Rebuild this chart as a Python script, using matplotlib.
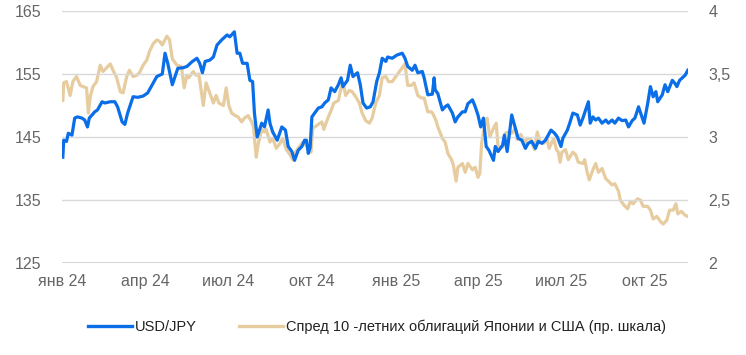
import pandas as pd
import matplotlib.pyplot as plt
import matplotlib.dates as mdates
from matplotlib.ticker import FuncFormatter, MultipleLocator

# USD/JPY (левая шкала)
usd_dates = [
    "2024-01-02", "2024-01-03", "2024-01-06", "2024-01-08", "2024-01-12", "2024-01-15", "2024-01-18",
    "2024-01-23", "2024-01-26", "2024-01-29", "2024-01-31", "2024-02-06", "2024-02-09", "2024-02-14",
    "2024-02-17", "2024-02-23", "2024-02-28", "2024-03-02", "2024-03-07", "2024-03-10", "2024-03-13",
    "2024-03-19", "2024-03-24", "2024-03-30", "2024-04-04", "2024-04-09", "2024-04-14", "2024-04-20",
    "2024-04-23", "2024-04-26", "2024-05-01", "2024-05-04", "2024-05-07", "2024-05-13", "2024-05-17",
    "2024-05-23", "2024-05-28", "2024-05-31", "2024-06-03", "2024-06-06", "2024-06-11", "2024-06-15",
    "2024-06-19", "2024-06-24", "2024-06-30", "2024-07-03", "2024-07-08", "2024-07-11", "2024-07-14",
    "2024-07-17", "2024-07-22", "2024-07-25", "2024-07-28", "2024-07-30", "2024-08-02", "2024-08-07",
    "2024-08-10", "2024-08-14", "2024-08-16", "2024-08-19", "2024-08-24", "2024-08-29", "2024-09-02",
    "2024-09-05", "2024-09-09", "2024-09-12", "2024-09-16", "2024-09-20", "2024-09-23", "2024-09-25",
    "2024-09-27", "2024-09-29", "2024-10-01", "2024-10-04", "2024-10-08", "2024-10-12", "2024-10-15",
    "2024-10-19", "2024-10-22", "2024-10-26", "2024-10-30", "2024-11-02", "2024-11-04", "2024-11-09",
    "2024-11-12", "2024-11-15", "2024-11-20", "2024-11-23", "2024-11-26", "2024-11-30", "2024-12-04",
    "2024-12-07", "2024-12-11", "2024-12-14", "2024-12-17", "2024-12-21", "2024-12-23", "2024-12-28",
    "2025-01-02", "2025-01-08", "2025-01-11", "2025-01-14", "2025-01-19", "2025-01-22", "2025-01-25",
    "2025-01-30", "2025-02-01", "2025-02-05", "2025-02-10", "2025-02-12", "2025-02-13", "2025-02-16",
    "2025-02-21", "2025-02-24", "2025-02-27", "2025-03-04", "2025-03-07", "2025-03-10", "2025-03-15",
    "2025-03-18", "2025-03-21", "2025-03-26", "2025-03-29", "2025-04-01", "2025-04-04", "2025-04-07",
    "2025-04-10", "2025-04-13", "2025-04-18", "2025-04-20", "2025-04-23", "2025-04-28", "2025-04-30",
    "2025-05-03", "2025-05-08", "2025-05-12", "2025-05-15", "2025-05-19", "2025-05-23", "2025-05-26",
    "2025-05-30", "2025-06-03", "2025-06-06", "2025-06-10", "2025-06-14", "2025-06-17", "2025-06-20",
    "2025-06-24", "2025-06-27", "2025-07-01", "2025-07-03", "2025-07-08", "2025-07-11", "2025-07-14",
    "2025-07-19", "2025-07-22", "2025-07-25", "2025-07-31", "2025-08-02", "2025-08-05", "2025-08-08",
    "2025-08-11", "2025-08-15", "2025-08-19", "2025-08-22", "2025-08-26", "2025-08-29", "2025-09-02",
    "2025-09-06", "2025-09-10", "2025-09-13", "2025-09-17", "2025-09-20", "2025-09-24", "2025-09-27",
    "2025-09-30", "2025-10-04", "2025-10-07", "2025-10-10", "2025-10-13", "2025-10-15", "2025-10-20",
    "2025-10-23", "2025-10-26", "2025-10-31", "2025-11-03", "2025-11-05", "2025-11-08", "2025-11-14",
    "2025-11-17",
]
usd_jpy = [
    141.8, 144.5, 144.3, 145.6, 145.3, 148.0, 148.2,
    148.0, 147.7, 146.6, 148.0, 149.0, 149.3, 150.6,
    150.4, 150.6, 150.6, 149.8, 147.4, 147.0, 148.8,
    151.4, 151.3, 151.5, 152.0, 153.3, 154.6, 155.0,
    158.3, 156.7, 153.3, 154.6, 155.9, 156.0, 156.2,
    157.0, 157.5, 156.7, 155.2, 157.0, 157.2, 157.7,
    159.6, 160.4, 161.2, 160.9, 161.7, 158.3, 158.3,
    156.7, 156.7, 154.0, 153.8, 148.8, 145.0, 147.2,
    146.6, 149.3, 147.2, 145.8, 144.5, 146.6, 146.1,
    143.5, 142.7, 141.3, 142.9, 143.5, 144.5, 144.5,
    142.4, 143.3, 148.2, 148.8, 149.6, 149.8, 150.4,
    150.9, 152.8, 152.2, 153.3, 154.4, 153.0, 154.0,
    156.4, 154.6, 155.2, 153.3, 150.4, 149.6, 149.8,
    150.6, 153.8, 155.2, 157.5, 157.0, 157.7, 157.5,
    158.0, 158.3, 157.5, 156.2, 155.6, 156.4, 155.2,
    155.4, 154.4, 151.7, 151.8, 154.4, 152.5, 151.9,
    149.3, 149.8, 150.1, 148.8, 147.4, 148.2, 149.0,
    149.0, 150.3, 150.9, 149.8, 148.5, 146.6, 148.0,
    143.5, 142.9, 141.3, 143.5, 142.7, 143.7, 145.3,
    142.7, 148.5, 146.4, 144.8, 144.5, 143.2, 144.0,
    144.3, 143.2, 144.3, 144.0, 144.5, 145.3, 146.1,
    145.6, 145.0, 143.5, 144.8, 146.1, 147.4, 148.8,
    148.5, 146.9, 148.0, 150.6, 147.2, 148.2, 147.7,
    148.0, 147.2, 147.7, 147.2, 147.7, 147.2, 148.0,
    147.6, 147.7, 146.6, 147.6, 148.0, 149.8, 148.5,
    147.2, 150.3, 153.0, 151.4, 152.2, 150.6, 151.7,
    153.3, 152.2, 154.0, 153.5, 153.0, 154.0, 154.8,
    155.6,
]

# спред доходностей 10-летних облигаций США и Японии, п.п. (правая шкала)
spread_dates = [
    "2024-01-02", "2024-01-03", "2024-01-06", "2024-01-10", "2024-01-13", "2024-01-17", "2024-01-21",
    "2024-01-24", "2024-01-28", "2024-01-30", "2024-02-01", "2024-02-04", "2024-02-08", "2024-02-12",
    "2024-02-15", "2024-02-19", "2024-02-23", "2024-02-26", "2024-03-01", "2024-03-05", "2024-03-08",
    "2024-03-12", "2024-03-15", "2024-03-19", "2024-03-23", "2024-03-26", "2024-03-30", "2024-04-03",
    "2024-04-06", "2024-04-10", "2024-04-14", "2024-04-17", "2024-04-20", "2024-04-25", "2024-04-28",
    "2024-05-01", "2024-05-06", "2024-05-11", "2024-05-14", "2024-05-17", "2024-05-19", "2024-05-24",
    "2024-05-27", "2024-05-30", "2024-06-04", "2024-06-07", "2024-06-10", "2024-06-15", "2024-06-18",
    "2024-06-21", "2024-06-26", "2024-06-29", "2024-07-02", "2024-07-05", "2024-07-09", "2024-07-12",
    "2024-07-16", "2024-07-19", "2024-07-23", "2024-07-27", "2024-07-29", "2024-08-01", "2024-08-03",
    "2024-08-07", "2024-08-10", "2024-08-12", "2024-08-16", "2024-08-19", "2024-08-23", "2024-08-27",
    "2024-08-30", "2024-09-03", "2024-09-07", "2024-09-10", "2024-09-13", "2024-09-16", "2024-09-21",
    "2024-09-24", "2024-09-27", "2024-09-30", "2024-10-02", "2024-10-04", "2024-10-08", "2024-10-12",
    "2024-10-14", "2024-10-19", "2024-10-22", "2024-10-25", "2024-10-30", "2024-11-02", "2024-11-04",
    "2024-11-07", "2024-11-11", "2024-11-14", "2024-11-18", "2024-11-22", "2024-11-25", "2024-11-29",
    "2024-12-03", "2024-12-06", "2024-12-10", "2024-12-14", "2024-12-17", "2024-12-21", "2024-12-24",
    "2024-12-28", "2025-01-02", "2025-01-05", "2025-01-08", "2025-01-11", "2025-01-14", "2025-01-18",
    "2025-01-21", "2025-01-25", "2025-01-29", "2025-02-01", "2025-02-05", "2025-02-09", "2025-02-11",
    "2025-02-14", "2025-02-16", "2025-02-21", "2025-02-24", "2025-02-27", "2025-03-03", "2025-03-05",
    "2025-03-08", "2025-03-10", "2025-03-15", "2025-03-18", "2025-03-21", "2025-03-26", "2025-03-29",
    "2025-04-01", "2025-04-03", "2025-04-05", "2025-04-09", "2025-04-11", "2025-04-14", "2025-04-18",
    "2025-04-21", "2025-04-23", "2025-04-28", "2025-05-01", "2025-05-04", "2025-05-08", "2025-05-12",
    "2025-05-14", "2025-05-18", "2025-05-22", "2025-05-25", "2025-05-29", "2025-06-02", "2025-06-05",
    "2025-06-08", "2025-06-12", "2025-06-16", "2025-06-18", "2025-06-23", "2025-06-26", "2025-06-28",
    "2025-06-30", "2025-07-02", "2025-07-06", "2025-07-09", "2025-07-14", "2025-07-17", "2025-07-20",
    "2025-07-25", "2025-07-27", "2025-07-30", "2025-08-01", "2025-08-05", "2025-08-08", "2025-08-11",
    "2025-08-15", "2025-08-19", "2025-08-22", "2025-08-26", "2025-08-29", "2025-09-02", "2025-09-04",
    "2025-09-08", "2025-09-12", "2025-09-15", "2025-09-18", "2025-09-23", "2025-09-26", "2025-09-29",
    "2025-10-04", "2025-10-07", "2025-10-10", "2025-10-14", "2025-10-18", "2025-10-21", "2025-10-25",
    "2025-10-28", "2025-11-01", "2025-11-04", "2025-11-06", "2025-11-10", "2025-11-14", "2025-11-17",
]
spread = [
    3.29, 3.43, 3.44, 3.33, 3.44, 3.48, 3.41,
    3.40, 3.39, 3.19, 3.32, 3.40, 3.44, 3.57,
    3.52, 3.55, 3.58, 3.53, 3.47, 3.36, 3.35,
    3.48, 3.53, 3.48, 3.49, 3.51, 3.57, 3.61,
    3.68, 3.74, 3.77, 3.76, 3.73, 3.80, 3.77,
    3.62, 3.57, 3.56, 3.39, 3.49, 3.47, 3.52,
    3.49, 3.50, 3.25, 3.43, 3.37, 3.27, 3.33,
    3.27, 3.25, 3.39, 3.25, 3.19, 3.17, 3.16,
    3.12, 3.15, 3.17, 3.12, 3.08, 2.84, 2.94,
    3.06, 3.04, 3.06, 2.96, 2.99, 2.91, 2.95,
    2.99, 2.90, 2.86, 2.82, 2.88, 2.91, 2.96,
    2.94, 2.92, 2.88, 3.08, 3.08, 3.10, 3.12,
    3.06, 3.16, 3.21, 3.27, 3.29, 3.39, 3.43,
    3.33, 3.37, 3.36, 3.32, 3.27, 3.19, 3.13,
    3.11, 3.15, 3.27, 3.33, 3.47, 3.48, 3.44,
    3.44, 3.49, 3.52, 3.55, 3.58, 3.41, 3.41,
    3.43, 3.33, 3.31, 3.31, 3.20, 3.20, 3.18,
    3.13, 3.08, 2.99, 2.96, 2.87, 2.82, 2.78,
    2.65, 2.76, 2.79, 2.72, 2.79, 2.74, 2.76,
    2.68, 2.71, 2.95, 3.12, 3.15, 3.00, 3.07,
    3.11, 2.92, 2.92, 3.03, 3.04, 3.03, 3.07,
    2.98, 3.02, 2.95, 2.99, 2.98, 2.90, 3.04,
    2.96, 2.95, 2.98, 2.91, 2.99, 2.90, 2.88,
    2.80, 2.88, 2.90, 2.82, 2.88, 2.86, 2.80,
    2.79, 2.82, 2.71, 2.66, 2.74, 2.79, 2.72,
    2.75, 2.67, 2.65, 2.62, 2.63, 2.57, 2.50,
    2.46, 2.43, 2.49, 2.47, 2.51, 2.50, 2.45,
    2.45, 2.42, 2.35, 2.37, 2.33, 2.31, 2.34,
    2.42, 2.42, 2.47, 2.39, 2.41, 2.38, 2.37,
]

left_ticks = [125, 135, 145, 155, 165]
month_ru = {1: "янв", 4: "апр", 7: "июл", 10: "окт"}

blue = "#0a6ee8"
tan = "#e6cc9e"
grey_txt = "#666666"

plt.rcParams['font.family'] = ['Liberation Sans', 'DejaVu Sans']

fig = plt.figure(figsize=(7.46, 3.55), dpi=100)
ax = fig.add_axes([0.083, 0.259, 0.839, 0.710])
ax2 = ax.twinx()

x1 = pd.to_datetime(usd_dates)
x2 = pd.to_datetime(spread_dates)

ax2.plot(x2, spread, color=tan, lw=2.3, solid_joinstyle='round')
ax.plot(x1, usd_jpy, color=blue, lw=2.3, solid_joinstyle='round')
ax.set_zorder(ax2.get_zorder() + 1)
ax.patch.set_visible(False)

ax.set_ylim(125, 165)
ax.set_yticks(left_ticks)
ax2.set_ylim(2, 4)
ax2.yaxis.set_major_locator(MultipleLocator(0.5))
ax2.yaxis.set_major_formatter(FuncFormatter(lambda v, p: f"{v:g}".replace('.', ',')))

ax.set_xlim(pd.Timestamp("2024-01-01"), pd.Timestamp("2025-11-17"))
ax.xaxis.set_major_locator(mdates.MonthLocator(bymonth=[1, 4, 7, 10]))
ax.xaxis.set_major_formatter(FuncFormatter(
    lambda v, p: f"{month_ru[mdates.num2date(v).month]} {mdates.num2date(v).year % 100}"))

ax.grid(axis='y', color='#d9d9d9', lw=1)
for a in (ax, ax2):
    for s in ('top', 'left', 'right', 'bottom'):
        a.spines[s].set_visible(False)
    a.tick_params(length=0, labelsize=11.5, labelcolor=grey_txt)
ax.axhline(125, color='#d0d0d0', lw=2, zorder=0)
ax.tick_params(axis='y', pad=15)
ax2.tick_params(axis='y', pad=15)
ax.tick_params(axis='x', pad=8)

h1, = ax.plot([], [], color=blue, lw=2.4)
h2, = ax.plot([], [], color=tan, lw=2.4)
fig.legend([h1, h2], ["USD/JPY", "Спред 10 -летних облигаций Японии и США (пр. шкала)"],
           loc='center left', bbox_to_anchor=(0.118, 0.079), ncol=2, frameon=False,
           borderaxespad=0, borderpad=0,
           handlelength=3.0, handletextpad=0.2, columnspacing=2.9, fontsize=10.5)
for t in fig.legends[0].get_texts():
    t.set_color("#222222")

fig.savefig("out.png", dpi=100)
